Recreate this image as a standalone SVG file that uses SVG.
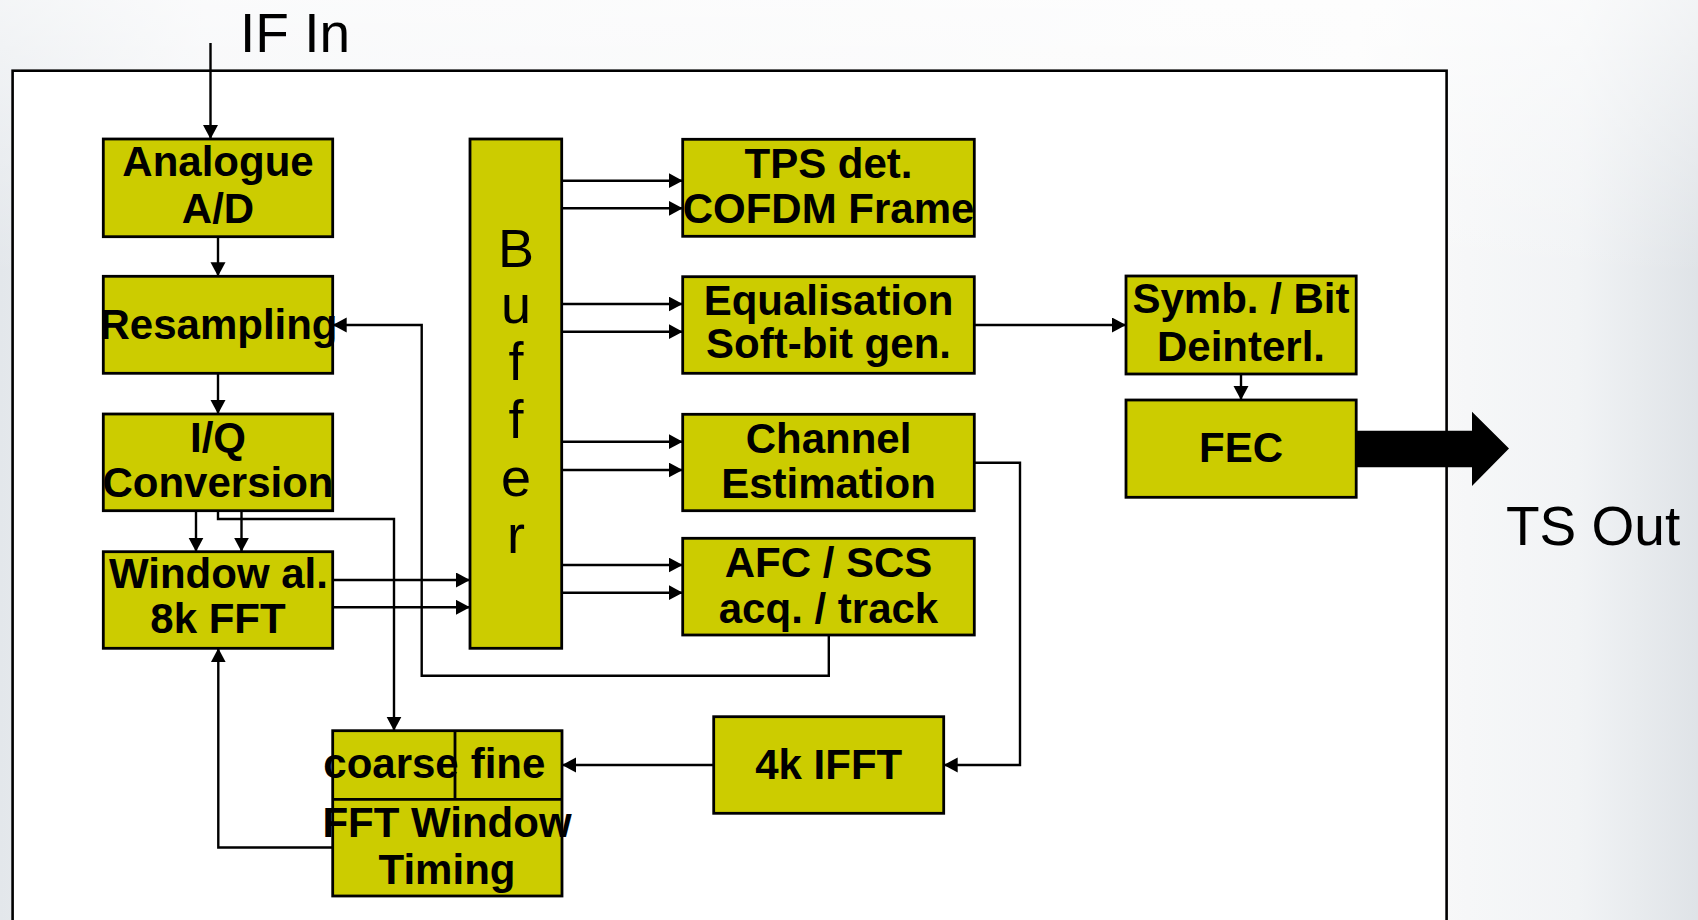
<svg xmlns="http://www.w3.org/2000/svg" width="1698" height="920" viewBox="0 0 1698 920">
<defs>
<linearGradient id="bgH" x1="0" y1="0" x2="1" y2="0">
<stop offset="0" stop-color="#e3e7eb"/>
<stop offset="0.12" stop-color="#f3f4f6"/>
<stop offset="0.8" stop-color="#fbfbfb"/>
<stop offset="0.93" stop-color="#f1f3f5"/>
<stop offset="1" stop-color="#dfe3e7"/>
</linearGradient>
<linearGradient id="bgV" x1="0" y1="0" x2="0" y2="1">
<stop offset="0" stop-color="#ffffff" stop-opacity="0.6"/>
<stop offset="0.3" stop-color="#ffffff" stop-opacity="0"/>
</linearGradient>
<marker id="ah" markerUnits="userSpaceOnUse" markerWidth="15" markerHeight="16" refX="14" refY="7.5" orient="auto">
<path d="M0,0 L14,7.5 L0,15 z" fill="#000"/>
</marker>
<style>
.box{fill:#cccc00;stroke:#000;stroke-width:2.8}
.t{font-family:"Liberation Sans",Arial,sans-serif;font-weight:bold;font-size:42px;fill:#000;text-anchor:middle}
.big{font-family:"Liberation Sans",Arial,sans-serif;font-size:55px;fill:#000}
.buf{font-family:"Liberation Sans",Arial,sans-serif;font-size:54px;fill:#000;text-anchor:middle}
.c{fill:none;stroke:#000;stroke-width:2.4}
.a{marker-end:url(#ah)}
</style>
</defs>
<rect x="0" y="0" width="1698" height="920" fill="url(#bgH)"/>
<rect x="0" y="0" width="1698" height="920" fill="url(#bgV)"/>
<rect id="frame" x="12.6" y="70.7" width="1434" height="880" fill="#fff" stroke="#000" stroke-width="2.6"/>
<text class="big" x="240" y="52">IF In</text>
<text class="big" x="1506" y="545">TS Out</text>

<g id="connectors">
<path class="c a" d="M210.5,43 V139"/>
<path class="c a" d="M218,236.7 V276.3"/>
<path class="c a" d="M218,373.3 V414"/>
<path class="c a" d="M196,510.7 V551.7"/>
<path class="c a" d="M241.5,510.7 V551.7"/>
<path class="c a" d="M218,510.7 V519 H394 V730.7"/>
<path class="c a" d="M332.7,580 H470"/>
<path class="c a" d="M332.7,607.3 H470"/>
<path class="c a" d="M561.7,180.7 H682.7"/>
<path class="c a" d="M561.7,208.3 H682.7"/>
<path class="c a" d="M561.7,304 H682.7"/>
<path class="c a" d="M561.7,331.7 H682.7"/>
<path class="c a" d="M561.7,441.7 H682.7"/>
<path class="c a" d="M561.7,470 H682.7"/>
<path class="c a" d="M561.7,565 H682.7"/>
<path class="c a" d="M561.7,592.7 H682.7"/>
<path class="c a" d="M974.3,325 H1126"/>
<path class="c a" d="M1241,374 V400"/>
<path class="c a" d="M828.8,635 V675.7 H421.7 V325 H332.7"/>
<path class="c a" d="M974.3,462.7 H1020 V765 H943.7"/>
<path class="c a" d="M713.7,765 H562"/>
<path class="c a" d="M332.7,847.5 H218.3 V648.3"/>
<polygon points="1356,430.7 1472,430.7 1472,411.7 1509,448.5 1472,486 1472,467.3 1356,467.3" fill="#000"/>
</g>

<g id="analogue">
<rect class="box" x="103.3" y="139" width="229.4" height="97.7"/>
<text class="t" x="218" y="176">Analogue</text>
<text class="t" x="218" y="223.3">A/D</text>
</g>
<g id="resampling">
<rect class="box" x="103.3" y="276.3" width="229.4" height="97"/>
<text class="t" x="218.5" y="339">Resampling</text>
</g>
<g id="iq">
<rect class="box" x="103.3" y="414" width="229.4" height="96.7"/>
<text class="t" x="218" y="452.3">I/Q</text>
<text class="t" x="218" y="497.3">Conversion</text>
</g>
<g id="window">
<rect class="box" x="103.3" y="551.7" width="229.4" height="96.6"/>
<text class="t" x="218.5" y="588.3">Window al.</text>
<text class="t" x="218" y="633.3">8k FFT</text>
</g>
<g id="buffer">
<rect class="box" x="470" y="139" width="91.7" height="509.3"/>
<text class="buf" x="516" y="266.7">B</text>
<text class="buf" x="516" y="323.3">u</text>
<text class="buf" x="516" y="380">f</text>
<text class="buf" x="516" y="438">f</text>
<text class="buf" x="516" y="495.5">e</text>
<text class="buf" x="516" y="553">r</text>
</g>
<g id="tps">
<rect class="box" x="682.7" y="139.3" width="291.6" height="97"/>
<text class="t" x="828.5" y="177.7">TPS det.</text>
<text class="t" x="828.5" y="223.3">COFDM Frame</text>
</g>
<g id="equalisation">
<rect class="box" x="682.7" y="276.7" width="291.6" height="96.6"/>
<text class="t" x="828.5" y="315">Equalisation</text>
<text class="t" x="828.5" y="358.3">Soft-bit gen.</text>
</g>
<g id="channel">
<rect class="box" x="682.7" y="414.3" width="291.6" height="96.4"/>
<text class="t" x="828.5" y="452.7">Channel</text>
<text class="t" x="828.5" y="498.3">Estimation</text>
</g>
<g id="afc">
<rect class="box" x="682.7" y="538.3" width="291.6" height="96.7"/>
<text class="t" x="828.5" y="576.7">AFC / SCS</text>
<text class="t" x="828.5" y="622.7">acq. / track</text>
</g>
<g id="symb">
<rect class="box" x="1126" y="276" width="230.2" height="98"/>
<text class="t" x="1241" y="313.3">Symb. / Bit</text>
<text class="t" x="1241" y="360.7">Deinterl.</text>
</g>
<g id="fec">
<rect class="box" x="1126" y="400" width="230.2" height="97.3"/>
<text class="t" x="1241" y="461.7">FEC</text>
</g>
<g id="ifft">
<rect class="box" x="713.7" y="716.7" width="230" height="96.6"/>
<text class="t" x="828.7" y="779">4k IFFT</text>
</g>
<g id="fftwindow">
<rect class="box" x="332.7" y="730.7" width="229.3" height="165.3"/>
<path d="M332.7,799.3 H562 M455,730.7 V799.3" fill="none" stroke="#000" stroke-width="2.8"/>
<text class="t" x="391" y="778.3">coarse</text>
<text class="t" x="508" y="778.3">fine</text>
<text class="t" x="447" y="837.3">FFT Window</text>
<text class="t" x="447" y="884">Timing</text>
</g>
</svg>
